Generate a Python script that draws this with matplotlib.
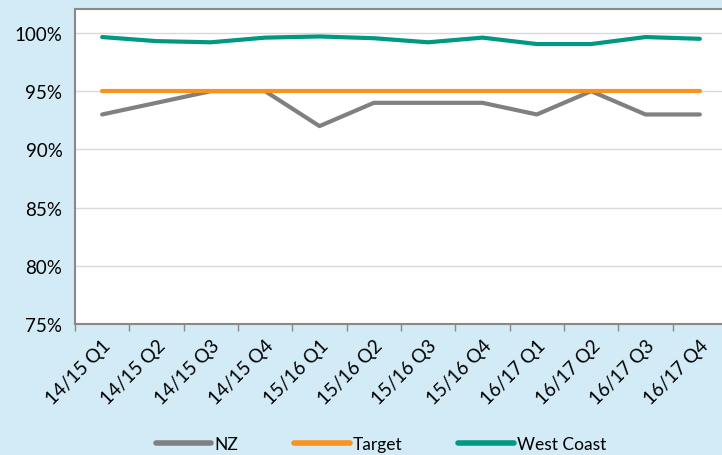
import matplotlib
matplotlib.use("Agg")
from matplotlib import pyplot as plt
import numpy as np

quarters = ['14/15 Q1', '14/15 Q2', '14/15 Q3', '14/15 Q4',
            '15/16 Q1', '15/16 Q2', '15/16 Q3', '15/16 Q4',
            '16/17 Q1', '16/17 Q2', '16/17 Q3', '16/17 Q4']
nz = [93, 94, 95, 95, 92, 94, 94, 94, 93, 95, 93, 93]
target = [95] * 12
west_coast = [99.65, 99.3, 99.2, 99.6, 99.7, 99.55, 99.2, 99.6, 99.05, 99.05, 99.65, 99.5]
yticks = [75, 80, 85, 90, 95, 100]

plt.rcParams['font.family'] = ['Lato', 'DejaVu Sans']

bg = '#d2ebf6'
fig = plt.figure(figsize=(7.22, 4.56), dpi=100, facecolor=bg)
# axes runs off the right edge like in the original
ax = fig.add_axes([75 / 722, 1 - 325 / 456, 652 / 722, 315 / 456])
ax.set_facecolor('white')

ind = np.arange(len(quarters))
ax.plot(ind, nz, color='#808080', lw=3.0, solid_capstyle='round', label='NZ', zorder=3)
ax.plot(ind, target, color='#f7931e', lw=3.0, solid_capstyle='round', label='Target', zorder=3)
ax.plot(ind, west_coast, color='#009883', lw=3.0, solid_capstyle='round', label='West Coast', zorder=4)

ax.set_xlim(-0.5, 11.5)
ax.set_ylim(75, 102.06)
ax.set_yticks(yticks)
ax.set_yticklabels(['{}%'.format(v) for v in yticks])
ax.yaxis.grid(True, color='#d9d9d9', lw=1)
ax.set_axisbelow(True)

ax.set_xticks(ind)
ax.set_xticklabels(quarters, rotation=45, ha='right', va='top', rotation_mode='anchor')
ax.set_xticks(np.arange(-0.5, 12, 1), minor=True)
ax.tick_params(axis='x', which='major', length=0, pad=9, labelsize=13.5)
ax.tick_params(axis='x', which='minor', length=5, color='#898989', width=1)
ax.tick_params(axis='y', length=0, pad=9, labelsize=13.5)

for s in ['left', 'bottom', 'top']:
    ax.spines[s].set_color('#898989')
    ax.spines[s].set_linewidth(1.5)
ax.spines['right'].set_visible(False)

leg = fig.legend(loc='center', bbox_to_anchor=(0.528, 1 - 445 / 456), ncol=3, frameon=False,
                 fontsize=12.5, handlelength=3.2, columnspacing=3.2, handletextpad=0.2)
for line in leg.get_lines():
    line.set_linewidth(4)
    line.set_solid_capstyle('round')

fig.savefig('out.png', dpi=100, facecolor=bg)
